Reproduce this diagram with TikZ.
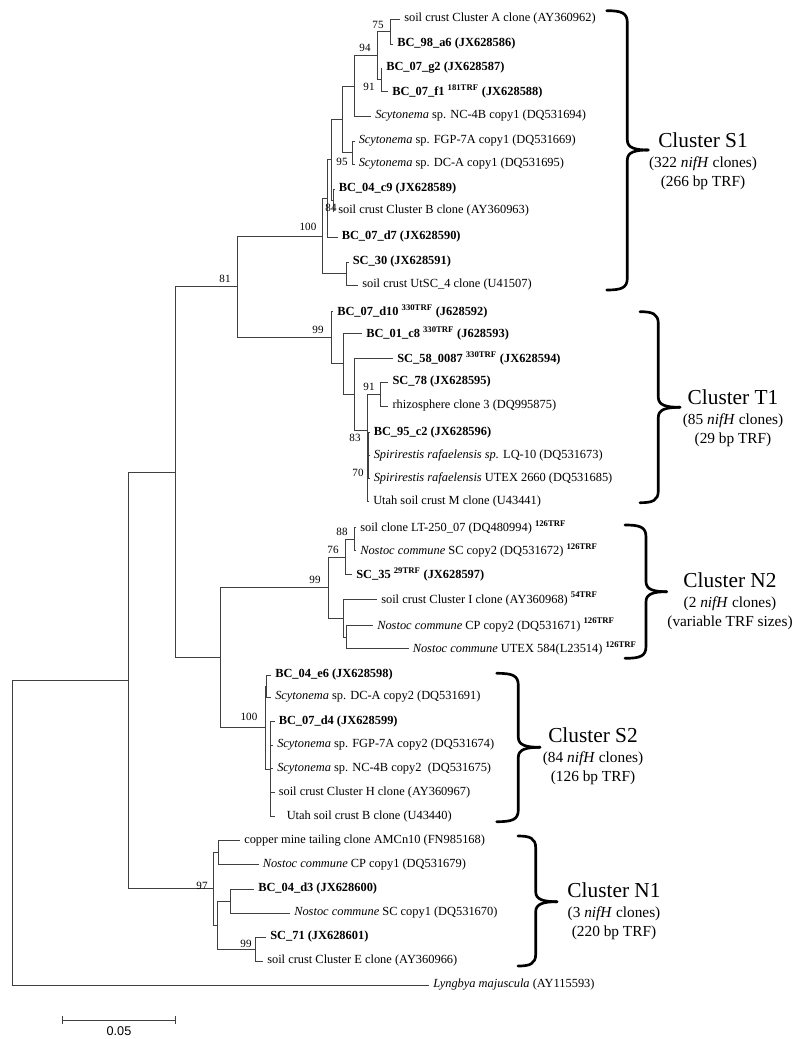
\documentclass[tikz,border=0pt]{standalone}
\usepackage{fontspec}
\setmainfont{Liberation Serif}
\newfontfamily\barfont{Liberation Sans}
\newcommand{\trf}[1]{\textsuperscript{\bfseries #1TRF}}
% curly bracket: x0 x1 x2 ytop ymid ybot
\newcommand{\clbrace}[6]{%
  \draw[brack] (#1,#4) .. controls (#2-6,#4) and (#2,#4+2) .. (#2,#4+12)
    -- (#2,#5-10) .. controls (#2,#5-2) and (#2+8,#5) .. (#3,#5);
  \draw[brack] (#3,#5) .. controls (#2+8,#5) and (#2,#5+2) .. (#2,#5+10)
    -- (#2,#6-12) .. controls (#2,#6-2) and (#2-6,#6) .. (#1,#6);}

\begin{document}
\begin{tikzpicture}[x=0.75pt,y=-0.75pt]

  \tikzset{
    branch/.style={draw=black!75, line width=0.7pt},
    leaf/.style={anchor=west, inner xsep=3pt, inner ysep=0pt, font=\fontsize{9.3}{11}\selectfont},
    clone/.style={leaf, font=\fontsize{9.3}{11}\selectfont\bfseries},
    boot/.style={inner sep=0pt, font=\fontsize{8.3}{10}\selectfont},
    brack/.style={line width=2pt, line cap=round, line join=round},
    cltext/.style={align=center, font=\fontsize{11.5}{14.3}\selectfont}
  }
  \useasboundingbox (0,0) rectangle (798,1039);

  % Cluster S1 leaves
  \node[leaf]  (lA) at (400,19)    {soil crust Cluster A clone (AY360962)};
  \node[clone] (lB) at (393,44)    {BC\_98\_a6 (JX628586)};
  \node[clone] (lC) at (382,68)    {BC\_07\_g2 (JX628587)};
  \node[clone] (lD) at (388,91)    {BC\_07\_f1 \trf{181} (JX628588)};
  \node[leaf]  (lE) at (371,116)   {\textit{Scytonema} sp. NC-4B copy1 (DQ531694)};
  \node[leaf]  (lF) at (354.5,141) {\textit{Scytonema} sp. FGP-7A copy1 (DQ531669)};
  \node[leaf]  (lG) at (354.5,164) {\textit{Scytonema} sp. DC-A copy1 (DQ531695)};
  \node[clone] (lH) at (334.5,189) {BC\_04\_c9 (JX628589)};
  \node[leaf]  (lI) at (334,211)   {soil crust Cluster B clone (AY360963)};
  \node[clone] (lJ) at (337.5,237) {BC\_07\_d7 (JX628590)};
  \node[clone] (lK) at (348.5,262) {SC\_30 (JX628591)};
  \node[leaf]  (lL) at (358,285)   {soil crust UtSC\_4 clone (U41507)};

  \coordinate (n75)  at (390,31.5);
  \coordinate (n91)  at (381,79.5);
  \coordinate (n94)  at (377,55.5);
  \coordinate (sA)   at (354,86);
  \coordinate (n95)  at (352.5,152.5);
  \coordinate (sB)   at (342,119);
  \coordinate (n84)  at (333,200);
  \coordinate (sC)   at (331.5,159.5);
  \coordinate (sD)   at (327,198);
  \coordinate (sE)   at (346.5,273.5);
  \coordinate (s100) at (322,236);

  % Cluster T1 leaves
  \node[clone] (lM) at (333,311)     {BC\_07\_d10 \trf{330} (J628592)};
  \node[clone] (lN) at (362,333.5)   {BC\_01\_c8 \trf{330} (J628593)};
  \node[clone] (lO) at (393,358.3)   {SC\_58\_0087 \trf{330} (JX628594)};
  \node[clone] (lP) at (388.3,382)   {SC\_78 (JX628595)};
  \node[leaf]  (lQ) at (388.3,406)   {rhizosphere clone 3 (DQ995875)};
  \node[clone] (lR) at (369.5,432.7) {BC\_95\_c2 (JX628596)};
  \node[leaf]  (lS) at (369.5,455.5) {\textit{Spirirestis rafaelensis sp.} LQ-10 (DQ531673)};
  \node[leaf]  (lT) at (369.5,478.5) {\textit{Spirirestis rafaelensis} UTEX 2660 (DQ531685)};
  \node[leaf]  (lU) at (369,501.5)   {Utah soil crust M clone (U43441)};

  \coordinate (n91b) at (380.7,394.2);
  \coordinate (n70)  at (368.5,455.5);
  \coordinate (n83)  at (367,430);
  \coordinate (tX)   at (354.3,394.2);
  \coordinate (tY)   at (343.3,363.5);
  \coordinate (n99a) at (331.7,337);
  \coordinate (n81)  at (237.7,286.5);

  % Cluster N2 leaves
  \node[leaf]  (lV)  at (356,527.5) {soil clone LT-250\_07 (DQ480994) \trf{126}};
  \node[leaf]  (lW)  at (356,550.7) {\textit{Nostoc commune} SC copy2 (DQ531672) \trf{126}};
  \node[clone] (lX)  at (352,574.5) {SC\_35 \trf{29} (JX628597)};
  \node[leaf]  (lY)  at (377,599)   {soil crust Cluster I clone (AY360968) \trf{54}};
  \node[leaf]  (lZ)  at (373,625)   {\textit{Nostoc commune} CP copy2 (DQ531671) \trf{126}};
  \node[leaf]  (lAA) at (408.5,648.5) {\textit{Nostoc commune} UTEX 584(L23514) \trf{126}};

  \coordinate (n88)  at (354,539);
  \coordinate (n76)  at (345,557);
  \coordinate (nJ)   at (346,637);
  \coordinate (nI)   at (343.3,618);
  \coordinate (n99b) at (328.3,587.5);

  % Cluster S2 leaves
  \node[clone] (lAB) at (271,675)     {BC\_04\_e6 (JX628598)};
  \node[leaf]  (lAC) at (271,697)     {\textit{Scytonema} sp. DC-A copy2 (DQ531691)};
  \node[clone] (lAD) at (274.5,721.5) {BC\_07\_d4 (JX628599)};
  \node[leaf]  (lAE) at (273,745)     {\textit{Scytonema} sp. FGP-7A copy2 (DQ531674)};
  \node[leaf]  (lAF) at (273,768.5)   {\textit{Scytonema} sp. NC-4B copy2 \ (DQ531675)};
  \node[leaf]  (lAG) at (274.5,792.3) {soil crust Cluster H clone (AY360967)};
  \node[leaf]  (lAH) at (274.5,816.7) {\hspace{6pt}Utah soil crust B clone (U43440)};

  \coordinate (nE6)   at (266.5,686);
  \coordinate (nD4)   at (270,769);
  \coordinate (s100b) at (265,727.5);
  \coordinate (nNS)   at (220,657.5);
  \coordinate (nR2)   at (175,472);

  % Cluster N1 leaves and outgroup
  \node[leaf]  (lAI) at (240,840.5) {copper mine tailing clone AMCn10 (FN985168)};
  \node[leaf]  (lAJ) at (258.5,864.5) {\textit{Nostoc commune} CP copy1 (DQ531679)};
  \node[clone] (lAK) at (254,889)   {BC\_04\_d3 (JX628600)};
  \node[leaf]  (lAL) at (290,913)   {\textit{Nostoc commune} SC copy1 (DQ531670)};
  \node[clone] (lAM) at (266,937)   {SC\_71 (JX628601)};
  \node[leaf]  (lAN) at (263,961)   {soil crust Cluster E clone (AY360966)};
  \node[leaf]  (lAO) at (429,985)   {\textit{Lyngbya majuscula} (AY115593)};

  \coordinate (nCu)   at (218.6,852.5);
  \coordinate (nBc)   at (230.4,901);
  \coordinate (n99c)  at (255.4,949);
  \coordinate (nQ)    at (217.9,925);
  \coordinate (n97)   at (213.6,888.75);
  \coordinate (nTop)  at (128.6,680.4);
  \coordinate (nRoot) at (12.5,832.7);

  % Branches
  \foreach \a/\b in {n75/lA.west, n75/lB.west, n91/lC.west, n91/lD.west, n94/n75, n94/n91,
      sA/n94, sA/lE.west, n95/lF.west, n95/lG.west, sB/sA, sB/n95, n84/lH.west, n84/lI.west,
      sC/sB, sC/n84, sD/sC, sD/lJ.west, sE/lK.west, sE/lL.west, s100/sD, s100/sE,
      n91b/lP.west, n91b/lQ.west, n70/lR.west, n70/lS.west, n70/lT.west, n83/n91b, n83/n70,
      n83/lU.west, tX/lO.west, tX/n83, tY/lN.west, tY/tX, n99a/lM.west, n99a/tY, n81/s100, n81/n99a,
      n88/lV.west, n88/lW.west, n76/n88, n76/lX.west, nJ/lZ.west, nJ/lAA.west, nI/lY.west, nI/nJ,
      n99b/n76, n99b/nI,
      nE6/lAB.west, nE6/lAC.west, nD4/lAD.west, nD4/lAE.west, nD4/lAF.west, nD4/lAG.west,
      nD4/lAH.west, s100b/nE6, s100b/nD4, nNS/n99b, nNS/s100b, nR2/n81, nR2/nNS,
      nCu/lAI.west, nCu/lAJ.west, nBc/lAK.west, nBc/lAL.west, n99c/lAM.west, n99c/lAN.west,
      nQ/nBc, nQ/n99c, n97/nCu, n97/nQ, nTop/nR2, nTop/n97, nRoot/nTop, nRoot/lAO.west}
    \draw[branch] (\a) |- (\b);

  % Bootstrap values
  \foreach \v/\x/\y [count=\i] in {75/378/25, 94/365/48, 91/369/87, 95/342/162, 84/331/208,
      100/308/227, 81/225/279, 99/318/330, 91/369/387, 83/355/438, 70/358/473, 88/342/532,
      76/333/550, 99/315/580, 100/249/717, 97/202/886, 99/246/944}
    \node[boot] (bs\i) at (\x,\y) {\v};

  % Brackets
  \clbrace{606.7}{627.3}{648.3}{10.7}{150}{290}
  \clbrace{640}{658.3}{680}{311.7}{407.3}{502.7}
  \clbrace{625}{646}{666.7}{525}{591.7}{658.3}
  \clbrace{496.7}{518.3}{540}{673.3}{747.3}{821.7}
  \clbrace{518}{535.7}{557}{836}{901.7}{966}

  \node[cltext] (cS1) at (703,161) {{\fontsize{16}{18}\selectfont Cluster S1}\\[1pt](322 \textit{nifH} clones)\\(266 bp TRF)};
  \node[cltext] (cT1) at (733,418) {{\fontsize{16}{18}\selectfont Cluster T1}\\[1pt](85 \textit{nifH} clones)\\(29 bp TRF)};
  \node[cltext] (cN2) at (730,601) {{\fontsize{16}{18}\selectfont Cluster N2}\\[1pt](2 \textit{nifH} clones)\\(variable TRF sizes)};
  \node[cltext] (cS2) at (593,756) {{\fontsize{16}{18}\selectfont Cluster S2}\\[1pt](84 \textit{nifH} clones)\\(126 bp TRF)};
  \node[cltext] (cN1) at (614,911) {{\fontsize{16}{18}\selectfont Cluster N1}\\[1pt](3 \textit{nifH} clones)\\(220 bp TRF)};

  % Scale bar
  \draw[branch] (62.5,1016) -- (62.5,1024) (62.5,1020) -- (175.7,1020) (175.7,1016) -- (175.7,1024);
  \node[font=\barfont\fontsize{9.5}{11}\selectfont] (sbar) at (119,1031) {0.05};

\end{tikzpicture}
\end{document}
